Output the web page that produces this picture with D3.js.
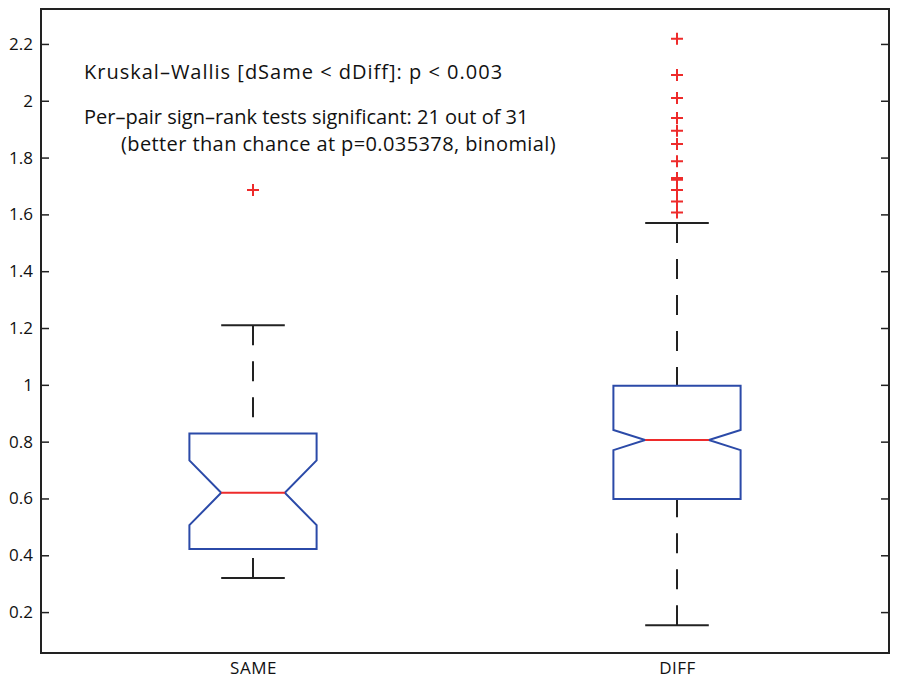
<!DOCTYPE html>
<html lang="en">
<head>
    <meta charset="UTF-8">
    <script src="https://d3js.org/d3.v7.min.js"></script>
    <title>SAME vs DIFF</title>
    <style>
        body { margin: 0; background: #fff; }
    </style>
</head>
<body>
    <div id="container"></div>
</body>
    <script>
        // data
        var groups = ["SAME", "DIFF"];
        var q1 = [0.422, 0.598];
        var medians = [0.620, 0.806];
        var q3 = [0.829, 0.997];
        var notchLo = [0.506, 0.770];
        var notchHi = [0.734, 0.841];
        var whiskLo = [0.320, 0.154];
        var whiskHi = [1.210, 1.570];
        var outliersSame = [1.686];
        var outliersDiff = [2.218, 2.091, 2.010, 1.939, 1.894, 1.848, 1.787, 1.728, 1.722, 1.686, 1.645, 1.607];
        var yTicks = [0.2, 0.4, 0.6, 0.8, 1, 1.2, 1.4, 1.6, 1.8, 2, 2.2];
        var notes = [
            "Kruskal\u2013Wallis [dSame < dDiff]: p < 0.003",
            "Per\u2013pair sign\u2013rank tests significant: 21 out of 31",
            "(better than chance at p=0.035378, binomial)"
        ];

        var width = 900, height = 686;
        var margin = {left: 41, top: 9, right: 11, bottom: 33};

        var x = d3.scaleLinear().domain([0.5, 2.5]).range([margin.left, width - margin.right]);
        var y = d3.scaleLinear().domain([0.056, 2.323]).range([height - margin.bottom, margin.top]);

        var svg = d3.select("#container").append("svg")
            .attr("width", width).attr("height", height)
            .attr("font-family", "'Open Sans', sans-serif");

        var boxHalf = 0.15, notchHalf = 0.075, capHalf = 0.075;
        var blue = "#2b4aa8", red = "#ee2b2b", ink = "#222";

        var boxes = groups.map((g, i) => ({
            name: g, pos: i + 1, q1: q1[i], med: medians[i], q3: q3[i],
            nlo: notchLo[i], nhi: notchHi[i], wlo: whiskLo[i], whi: whiskHi[i],
            out: i === 0 ? outliersSame : outliersDiff
        }));

        var g = svg.append("g");

        // whiskers (dashed), drawn from the caps toward the box
        g.selectAll("path.whisk")
            .data(boxes.flatMap(d => [[d.pos, d.whi, d.q3], [d.pos, d.wlo, d.q1]]))
            .join("path")
            .attr("class", "whisk")
            .attr("d", d => `M${x(d[0])},${y(d[1])}V${y(d[2])}`)
            .attr("stroke", ink).attr("stroke-width", 2)
            .attr("stroke-dasharray", "20,16");

        // caps
        g.selectAll("path.cap")
            .data(boxes.flatMap(d => [[d.pos, d.whi], [d.pos, d.wlo]]))
            .join("path")
            .attr("class", "cap")
            .attr("d", d => `M${x(d[0] - capHalf)},${y(d[1])}H${x(d[0] + capHalf)}`)
            .attr("stroke", ink).attr("stroke-width", 2);

        // notched boxes
        var line = d3.line().x(p => x(p[0])).y(p => y(p[1]));
        g.selectAll("path.box")
            .data(boxes)
            .join("path")
            .attr("class", "box")
            .attr("d", d => line([
                [d.pos - boxHalf, d.q1], [d.pos - boxHalf, d.nlo], [d.pos - notchHalf, d.med],
                [d.pos - boxHalf, d.nhi], [d.pos - boxHalf, d.q3], [d.pos + boxHalf, d.q3],
                [d.pos + boxHalf, d.nhi], [d.pos + notchHalf, d.med], [d.pos + boxHalf, d.nlo],
                [d.pos + boxHalf, d.q1]
            ]) + "Z")
            .attr("fill", "none").attr("stroke", blue).attr("stroke-width", 2);

        // medians
        g.selectAll("path.med")
            .data(boxes)
            .join("path")
            .attr("class", "med")
            .attr("d", d => `M${x(d.pos - notchHalf)},${y(d.med)}H${x(d.pos + notchHalf)}`)
            .attr("stroke", red).attr("stroke-width", 2);

        // outliers as "+" markers
        g.selectAll("path.out")
            .data(boxes.flatMap(d => d.out.map(v => [d.pos, v])))
            .join("path")
            .attr("class", "out")
            .attr("d", d => {
                var cx = x(d[0]), cy = y(d[1]);
                return `M${cx - 6},${cy}H${cx + 6}M${cx},${cy - 6}V${cy + 6}`;
            })
            .attr("stroke", red).attr("stroke-width", 2);

        // axes frame
        var x0 = margin.left, x1 = width - margin.right;
        var y0 = height - margin.bottom, y1 = margin.top;
        svg.append("rect")
            .attr("x", x0).attr("y", y1)
            .attr("width", x1 - x0).attr("height", y0 - y1)
            .attr("fill", "none").attr("stroke", ink).attr("stroke-width", 2);

        // y ticks: left axis with labels, right axis ticks inward
        var yAxisL = svg.append("g")
            .attr("transform", `translate(${x0},0)`)
            .call(d3.axisLeft(y).tickValues(yTicks).tickSizeInner(-8).tickSizeOuter(0).tickPadding(8).tickFormat(d3.format("")));
        yAxisL.select(".domain").remove();
        yAxisL.selectAll("line").attr("stroke", ink).attr("stroke-width", 1.5);
        yAxisL.selectAll("text").attr("font-size", 17).attr("fill", "#111")
            .attr("font-family", "'Open Sans', sans-serif");

        var yAxisR = svg.append("g")
            .attr("transform", `translate(${x1},0)`)
            .call(d3.axisRight(y).tickValues(yTicks).tickSizeInner(-8).tickSizeOuter(0).tickFormat(""));
        yAxisR.select(".domain").remove();
        yAxisR.selectAll("line").attr("stroke", ink).attr("stroke-width", 1.5);

        // x category labels
        var xAxis = svg.append("g")
            .attr("transform", `translate(0,${y0})`)
            .call(d3.axisBottom(x).tickValues([1, 2]).tickSize(0).tickPadding(9).tickFormat(d => groups[d - 1]));
        xAxis.select(".domain").remove();
        xAxis.selectAll("text").attr("font-size", 17).attr("fill", "#111")
            .attr("letter-spacing", 0.5)
            .attr("font-family", "'Open Sans', sans-serif");

        // annotation text
        var noteX = [84, 84, 121];
        var noteY = [79, 124, 151];
        var noteSpacing = [1, 0, 0.4];
        svg.append("g").selectAll("text")
            .data(notes)
            .join("text")
            .attr("x", (d, i) => noteX[i])
            .attr("y", (d, i) => noteY[i])
            .attr("font-size", 20)
            .attr("letter-spacing", (d, i) => noteSpacing[i])
            .attr("fill", "#111")
            .text(d => d);
    </script>
</html>
